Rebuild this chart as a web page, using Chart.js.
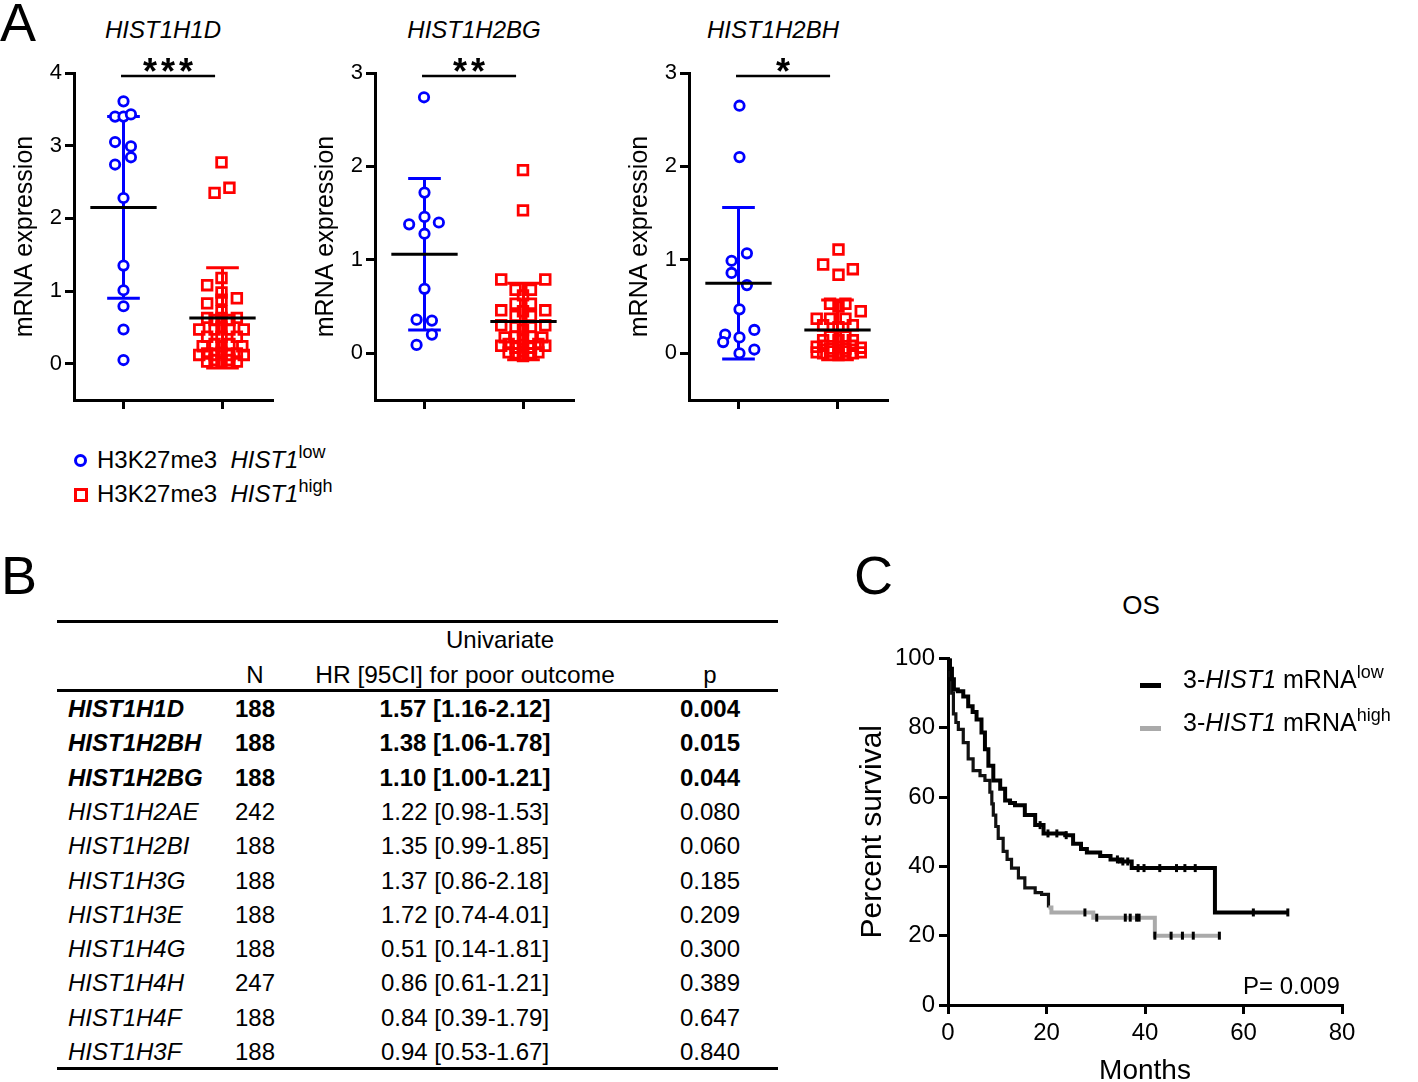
<!DOCTYPE html>
<html>
<head>
<meta charset="utf-8">
<title>HIST1 expression and survival</title>
<script src="https://cdn.jsdelivr.net/npm/chart.js@4.4.1/dist/chart.umd.min.js"></script>
<style>
  body { margin: 0; width: 1418px; height: 1082px; position: relative; overflow: hidden; background: #fff;
         font-family: "Liberation Sans", Arial, sans-serif; color: #000; }
  .abs { position: absolute; white-space: nowrap; }
  .panel { font-size: 54px; line-height: 54px; }
  .gene { font-size: 24px; font-style: italic; line-height: 28px; width: 200px; text-align: center; }
  .leg { font-size: 24px; line-height: 28px; }
  .sup { font-size: 18px; position: relative; top: -10px; }
  canvas { position: absolute; }
  .rule { position: absolute; height: 3px; background: #000; left: 57px; width: 721px; }
  .cell { position: absolute; font-size: 24px; line-height: 28px; white-space: nowrap; }
</style>
</head>
<body>
<div class="abs panel" style="left:0;top:-5px">A</div>
<div class="abs panel" style="left:1px;top:548px">B</div>
<div class="abs panel" style="left:854px;top:548px">C</div>

<div class="abs gene" style="left:63px;top:16px">HIST1H1D</div>
<div class="abs gene" style="left:374px;top:16px">HIST1H2BG</div>
<div class="abs gene" style="left:673px;top:16px">HIST1H2BH</div>

<canvas id="dot0" width="290" height="380" style="left:0;top:49px"></canvas>
<canvas id="dot1" width="290" height="380" style="left:301px;top:49px"></canvas>
<canvas id="dot2" width="290" height="380" style="left:615px;top:49px"></canvas>

<!-- legend panel A -->
<div class="abs" style="left:74px;top:454px;width:7px;height:7px;border:3px solid #0000ff;border-radius:50%"></div>
<div class="abs leg" style="left:97px;top:446px">H3K27me3&nbsp; <i>HIST1</i><span class="sup">low</span></div>
<div class="abs" style="left:74px;top:488px;width:8px;height:8px;border:3px solid #ff0000"></div>
<div class="abs leg" style="left:97px;top:480px">H3K27me3&nbsp; <i>HIST1</i><span class="sup">high</span></div>

<!-- panel B table -->
<div id="tbl"></div>

<!-- panel C -->
<div class="abs" style="left:1041px;top:590px;width:200px;text-align:center;font-size:26px;line-height:30px">OS</div>
<canvas id="km" width="570" height="460" style="left:848px;top:640px"></canvas>
<div class="abs" style="left:1140px;top:683px;width:21px;height:5px;background:#000"></div>
<div class="abs leg" style="left:1183px;top:664px;font-size:25px;line-height:30px">3-<i>HIST1</i> mRNA<span class="sup">low</span></div>
<div class="abs" style="left:1140px;top:726px;width:21px;height:5px;background:#aaaaaa"></div>
<div class="abs leg" style="left:1183px;top:707px;font-size:25px;line-height:30px">3-<i>HIST1</i> mRNA<span class="sup">high</span></div>
<div class="abs leg" style="left:1243px;top:972px">P= 0.009</div>

<script>
// --- Panel A: mRNA expression, H3K27me3 HIST1 low vs high ---
const genes = ['HIST1H1D', 'HIST1H2BG', 'HIST1H2BH'];
const yMax = [4, 3, 3];
const stars = ['***', '**', '*'];

// x = position around the group (low at 1, high at 3), y = expression
const lowX = [
  [1.0, 0.83, 1.0, 1.15, 0.83, 1.15, 1.15, 0.83, 1.0, 1.0, 1.0, 1.0, 1.0, 1.0],
  [0.99, 1.0, 1.0, 0.69, 1.29, 1.0, 1.0, 0.84, 1.15, 1.15, 0.84],
  [1.02, 1.02, 1.17, 0.86, 0.86, 1.17, 1.02, 1.32, 0.73, 0.69, 1.02, 1.02, 1.32]
];
const lowY = [
  [3.61, 3.40, 3.40, 3.43, 3.05, 2.99, 2.84, 2.74, 2.28, 1.35, 1.01, 0.79, 0.47, 0.05],
  [2.74, 1.72, 1.46, 1.38, 1.40, 1.28, 0.69, 0.36, 0.35, 0.20, 0.09],
  [2.65, 2.10, 1.07, 0.99, 0.86, 0.73, 0.47, 0.25, 0.20, 0.12, 0.17, 0.00, 0.04]
];
const highX = [
  [2.98, 2.84, 3.14, 2.98, 2.69, 2.98, 3.29, 2.98, 2.69, 2.98, 2.69, 2.84, 2.98, 3.14, 3.29,
   2.53, 2.84, 2.98, 3.14, 3.43, 2.69, 2.98, 3.29, 2.60, 2.84, 2.98, 3.14, 3.40,
   2.53, 2.69, 2.84, 2.98, 3.14, 3.29, 3.43, 2.69, 2.84, 2.98, 3.14, 3.29],
  [2.99, 2.99, 2.55, 3.44, 2.84, 3.15, 2.99, 2.84, 3.15, 2.55, 3.44, 2.84, 3.15, 2.99,
   2.55, 3.44, 2.84, 3.15, 2.99, 2.62, 2.84, 2.99, 3.15, 3.38,
   2.55, 2.70, 2.84, 2.99, 3.15, 3.30, 3.44, 2.70, 2.84, 2.99, 3.15, 3.30, 2.99],
  [3.02, 2.71, 3.31, 3.02, 2.85, 3.16, 3.47, 3.02, 2.58, 2.85, 3.16, 2.71, 3.31, 3.02,
   2.71, 3.02, 3.31, 2.85, 3.16, 2.58, 2.71, 2.85, 3.02, 3.16, 3.31, 3.47,
   2.58, 2.71, 2.85, 3.02, 3.16, 3.31, 3.47, 3.02]
];
const highY = [
  [2.77, 2.35, 2.42, 1.18, 1.08, 0.98, 0.90, 0.88, 0.83, 0.72, 0.63, 0.60, 0.63, 0.60, 0.63,
   0.47, 0.47, 0.50, 0.47, 0.47, 0.37, 0.37, 0.37, 0.24, 0.27, 0.24, 0.27, 0.24,
   0.12, 0.14, 0.12, 0.15, 0.12, 0.14, 0.12, 0.03, 0.05, 0.02, 0.05, 0.03],
  [1.96, 1.53, 0.79, 0.79, 0.68, 0.68, 0.62, 0.53, 0.53, 0.46, 0.46, 0.40, 0.40, 0.45,
   0.30, 0.30, 0.28, 0.28, 0.25, 0.17, 0.18, 0.15, 0.18, 0.17,
   0.08, 0.10, 0.06, 0.09, 0.06, 0.10, 0.08, 0.01, 0.00, 0.02, 0.00, 0.01, -0.03],
  [1.11, 0.95, 0.90, 0.84, 0.53, 0.53, 0.45, 0.50, 0.37, 0.37, 0.37, 0.30, 0.30, 0.28,
   0.14, 0.14, 0.14, 0.18, 0.18, 0.07, 0.08, 0.05, 0.07, 0.05, 0.08, 0.06,
   0.01, 0.00, 0.02, 0.00, 0.02, 0.00, 0.01, -0.02]
];
// mean +/- SD as drawn
const lowMean = [2.15, 1.06, 0.75];
const lowSD = [1.25, 0.81, 0.81];
const highMean = [0.63, 0.34, 0.25];
const highSD = [0.69, 0.41, 0.32];

// --- Panel B: univariate Cox table ---
const tblGene = ['HIST1H1D', 'HIST1H2BH', 'HIST1H2BG', 'HIST1H2AE', 'HIST1H2BI', 'HIST1H3G',
  'HIST1H3E', 'HIST1H4G', 'HIST1H4H', 'HIST1H4F', 'HIST1H3F'];
const tblN = [188, 188, 188, 242, 188, 188, 188, 188, 247, 188, 188];
const tblHR = ['1.57 [1.16-2.12]', '1.38 [1.06-1.78]', '1.10 [1.00-1.21]', '1.22 [0.98-1.53]',
  '1.35 [0.99-1.85]', '1.37 [0.86-2.18]', '1.72 [0.74-4.01]', '0.51 [0.14-1.81]',
  '0.86 [0.61-1.21]', '0.84 [0.39-1.79]', '0.94 [0.53-1.67]'];
const tblP = ['0.004', '0.015', '0.044', '0.080', '0.060', '0.185', '0.209', '0.300', '0.389', '0.647', '0.840'];

// --- Panel C: overall survival (Kaplan-Meier) ---
const lowT = [0, 0.4, 0.8, 1.2, 2.0, 3.1, 4.1, 5.0, 5.8, 6.8, 7.5, 8.2, 9.2, 10.6, 11.6, 12.6, 13.6,
  15.6, 17.7, 19.4, 23.8, 25.4, 27, 28.2, 30.9, 33, 34.9, 37.3, 54.2, 69];
const lowS = [100, 97, 94, 91, 90.5, 89, 86.2, 84.5, 82.4, 78.6, 73.8, 69, 64.8, 62.4, 59, 58.3, 57.6,
  54.8, 51.9, 49.5, 49, 46.5, 45, 44, 43, 42, 41.4, 39.5, 26.7, 26.7];
const highT = [0, 0.4, 0.75, 1.1, 1.6, 2.1, 3.1, 4.1, 5.1, 6.5, 7.5, 8.5, 8.9, 9.2, 9.7, 10.2, 11.2,
  12.0, 12.9, 14.3, 15.6, 17.7, 19.0, 20.4, 21.0, 29.5, 42, 55.2];
const highS = [100, 95, 90, 84, 81.5, 79.5, 75.7, 71, 67.6, 66.2, 64.8, 61.4, 58, 54.8, 51.5, 48.1, 44.3,
  42, 39.5, 36.7, 33.8, 32.4, 31.9, 28.1, 26.7, 25.2, 20, 20];
const lowCens = [18.7, 20.3, 22.1, 24.0, 34.4, 35.5, 36.5, 38.6, 39.8, 43.0, 46.4, 48.1, 50.2, 62, 69];
const highCens = [27.8, 30.2, 36, 37, 38.3, 38.8, 42, 45.3, 47.6, 49.8, 55.1];
const kmXTicks = [0, 20, 40, 60, 80];
const kmYTicks = [0, 20, 40, 60, 80, 100];

const FONT = 'Liberation Sans';
Chart.defaults.font.family = FONT;
Chart.defaults.color = '#000';

const axisGrid = { drawOnChartArea: false, drawTicks: true, tickLength: 9, color: '#000', lineWidth: 3 };
const axisBorder = { color: '#000', width: 3 };

// error bars behind the dots, mean line and significance bracket on top
const groupStats = {
  id: 'groupStats',
  beforeDatasetsDraw(chart, args, opts) {
    const i = opts.panel, ctx = chart.ctx, xs = chart.scales.x, ys = chart.scales.y;
    const bar = (cx, m, sd, color) => {
      const x = xs.getPixelForValue(cx);
      const cap = xs.getPixelForValue(cx + 0.33) - x;
      const t = ys.getPixelForValue(m + sd), b = ys.getPixelForValue(m - sd);
      ctx.save();
      ctx.strokeStyle = color;
      ctx.lineWidth = 3;
      ctx.beginPath();
      ctx.moveTo(x, t); ctx.lineTo(x, b);
      ctx.moveTo(x - cap, t); ctx.lineTo(x + cap, t);
      ctx.moveTo(x - cap, b); ctx.lineTo(x + cap, b);
      ctx.stroke();
      ctx.restore();
    };
    bar(1, lowMean[i], lowSD[i], '#0000ff');
    bar(3, highMean[i], highSD[i], '#ff0000');
  },
  afterDatasetsDraw(chart, args, opts) {
    const i = opts.panel, ctx = chart.ctx, xs = chart.scales.x, ys = chart.scales.y;
    ctx.save();
    ctx.strokeStyle = '#000';
    ctx.lineWidth = 3;
    [[1, lowMean[i]], [3, highMean[i]]].forEach(([cx, m]) => {
      const y = ys.getPixelForValue(m);
      ctx.beginPath();
      ctx.moveTo(xs.getPixelForValue(cx - 0.67), y);
      ctx.lineTo(xs.getPixelForValue(cx + 0.67), y);
      ctx.stroke();
    });
    const top = chart.chartArea.top + 3;
    const x0 = xs.getPixelForValue(0.95), x1 = xs.getPixelForValue(2.85);
    ctx.lineWidth = 2.5;
    ctx.beginPath();
    ctx.moveTo(x0, top); ctx.lineTo(x1, top);
    ctx.stroke();
    ctx.fillStyle = '#000';
    ctx.font = 'bold 36px ' + FONT;
    ctx.textAlign = 'center';
    ctx.textBaseline = 'alphabetic';
    const n = stars[i].length, mid = (x0 + x1) / 2;
    for (let k = 0; k < n; k++) ctx.fillText('*', mid + (k - (n - 1) / 2) * 18, top + 8);
    ctx.restore();
  }
};

function makeDot(i) {
  const yTicks = [];
  for (let v = 0; v <= yMax[i]; v++) yTicks.push({ value: v });
  new Chart(document.getElementById('dot' + i), {
    type: 'scatter',
    data: {
      datasets: [
        {
          data: lowX[i].map((x, k) => ({ x, y: lowY[i][k] })),
          pointStyle: 'circle', pointRadius: 4.7, borderWidth: 2.8,
          borderColor: '#0000ff', backgroundColor: '#ffffff'
        },
        {
          data: highX[i].map((x, k) => ({ x, y: highY[i][k] })),
          pointStyle: 'rect', pointRadius: 6.8, borderWidth: 2.8,
          borderColor: '#ff0000', backgroundColor: 'rgba(255,255,255,0)'
        }
      ]
    },
    options: {
      responsive: false, animation: false, events: [],
      layout: { padding: { top: 24, right: 18, left: 0, bottom: 0 } },
      plugins: { legend: { display: false }, tooltip: { enabled: false }, groupStats: { panel: i } },
      scales: {
        x: {
          type: 'linear', min: 0, max: 4,
          afterBuildTicks: s => { s.ticks = [{ value: 1 }, { value: 3 }]; },
          ticks: { callback: () => '' },
          grid: axisGrid, border: axisBorder,
          afterFit: s => { s.height = 29; }
        },
        y: {
          min: -0.5, max: yMax[i],
          afterBuildTicks: s => { s.ticks = yTicks; },
          ticks: { font: { size: 22 }, padding: 3 },
          grid: axisGrid, border: axisBorder,
          title: { display: true, text: 'mRNA expression', font: { size: 25 }, padding: { top: 10 } },
          afterFit: s => { s.width = 74; }
        }
      }
    },
    plugins: [groupStats]
  });
}
[0, 1, 2].forEach(makeDot);

// table B
const tbl = document.getElementById('tbl');
function cell(text, x, y, align, style) {
  const d = document.createElement('div');
  d.className = 'cell';
  d.style.top = (y - 14) + 'px';
  if (align === 'center') { d.style.left = (x - 200) + 'px'; d.style.width = '400px'; d.style.textAlign = 'center'; }
  else d.style.left = x + 'px';
  if (style) d.style.cssText += style;
  d.innerHTML = text;
  tbl.appendChild(d);
}
function rule(y) {
  const r = document.createElement('div');
  r.className = 'rule';
  r.style.top = (y - 1) + 'px';
  tbl.appendChild(r);
}
rule(621); rule(690); rule(1068);
cell('Univariate', 500, 640, 'center');
cell('N', 255, 675, 'center');
cell('HR [95CI] for poor outcome', 465, 675, 'center', 'font-size:24.5px;');
cell('p', 710, 675, 'center');
tblGene.forEach((g, k) => {
  const y = 709 + k * 34.3;
  const w = parseFloat(tblP[k]) < 0.05 ? 'font-weight:bold;' : '';
  cell('<i>' + g + '</i>', 68, y, 'left', w);
  cell(String(tblN[k]), 255, y, 'center', w);
  cell(tblHR[k], 465, y, 'center', w);
  cell(tblP[k], 710, y, 'center', w);
});

// panel C
const survAt = (T, S, t) => { let v = S[0]; T.forEach((u, k) => { if (u <= t) v = S[k]; }); return v; };
new Chart(document.getElementById('km'), {
  type: 'line',
  data: {
    datasets: [
      {
        type: 'scatter', data: lowCens.map(t => ({ x: t, y: survAt(lowT, lowS, t) })),
        pointStyle: 'line', rotation: 90, pointRadius: 4, borderWidth: 3, borderColor: '#000', clip: false
      },
      {
        type: 'scatter', data: highCens.map(t => ({ x: t, y: survAt(highT, highS, t) })),
        pointStyle: 'line', rotation: 90, pointRadius: 4, borderWidth: 3, borderColor: '#000', clip: false
      },
      {
        data: lowT.map((t, k) => ({ x: t, y: lowS[k] })),
        stepped: 'before', borderColor: '#000', borderWidth: 4, pointRadius: 0, fill: false
      },
      {
        data: highT.map((t, k) => ({ x: t, y: highS[k] })),
        stepped: 'before', borderColor: '#aaaaaa', borderWidth: 4, pointRadius: 0, fill: false,
        segment: { borderColor: c => (c.p1.parsed.x <= 20.5 ? '#111' : '#aaaaaa'), borderWidth: c => (c.p1.parsed.x <= 20.5 ? 3.2 : 4) }
      }
    ]
  },
  options: {
    responsive: false, animation: false, events: [],
    layout: { padding: { top: 15, right: 76, left: 0, bottom: 0 } },
    plugins: { legend: { display: false }, tooltip: { enabled: false } },
    scales: {
      x: {
        type: 'linear', min: 0, max: 80,
        afterBuildTicks: s => { s.ticks = kmXTicks.map(v => ({ value: v })); },
        ticks: { font: { size: 24 }, padding: 5 },
        grid: axisGrid, border: axisBorder,
        title: { display: true, text: 'Months', font: { size: 28 }, padding: { top: 0, bottom: 12 } },
        afterFit: s => { s.height = 95; }
      },
      y: {
        min: 0, max: 100,
        afterBuildTicks: s => { s.ticks = kmYTicks.map(v => ({ value: v })); },
        ticks: { font: { size: 24 }, padding: 4 },
        grid: axisGrid, border: axisBorder,
        title: { display: true, text: 'Percent survival', font: { size: 30 }, padding: { top: 7 } },
        afterFit: s => { s.width = 100; }
      }
    }
  }
});
</script>
</body>
</html>
